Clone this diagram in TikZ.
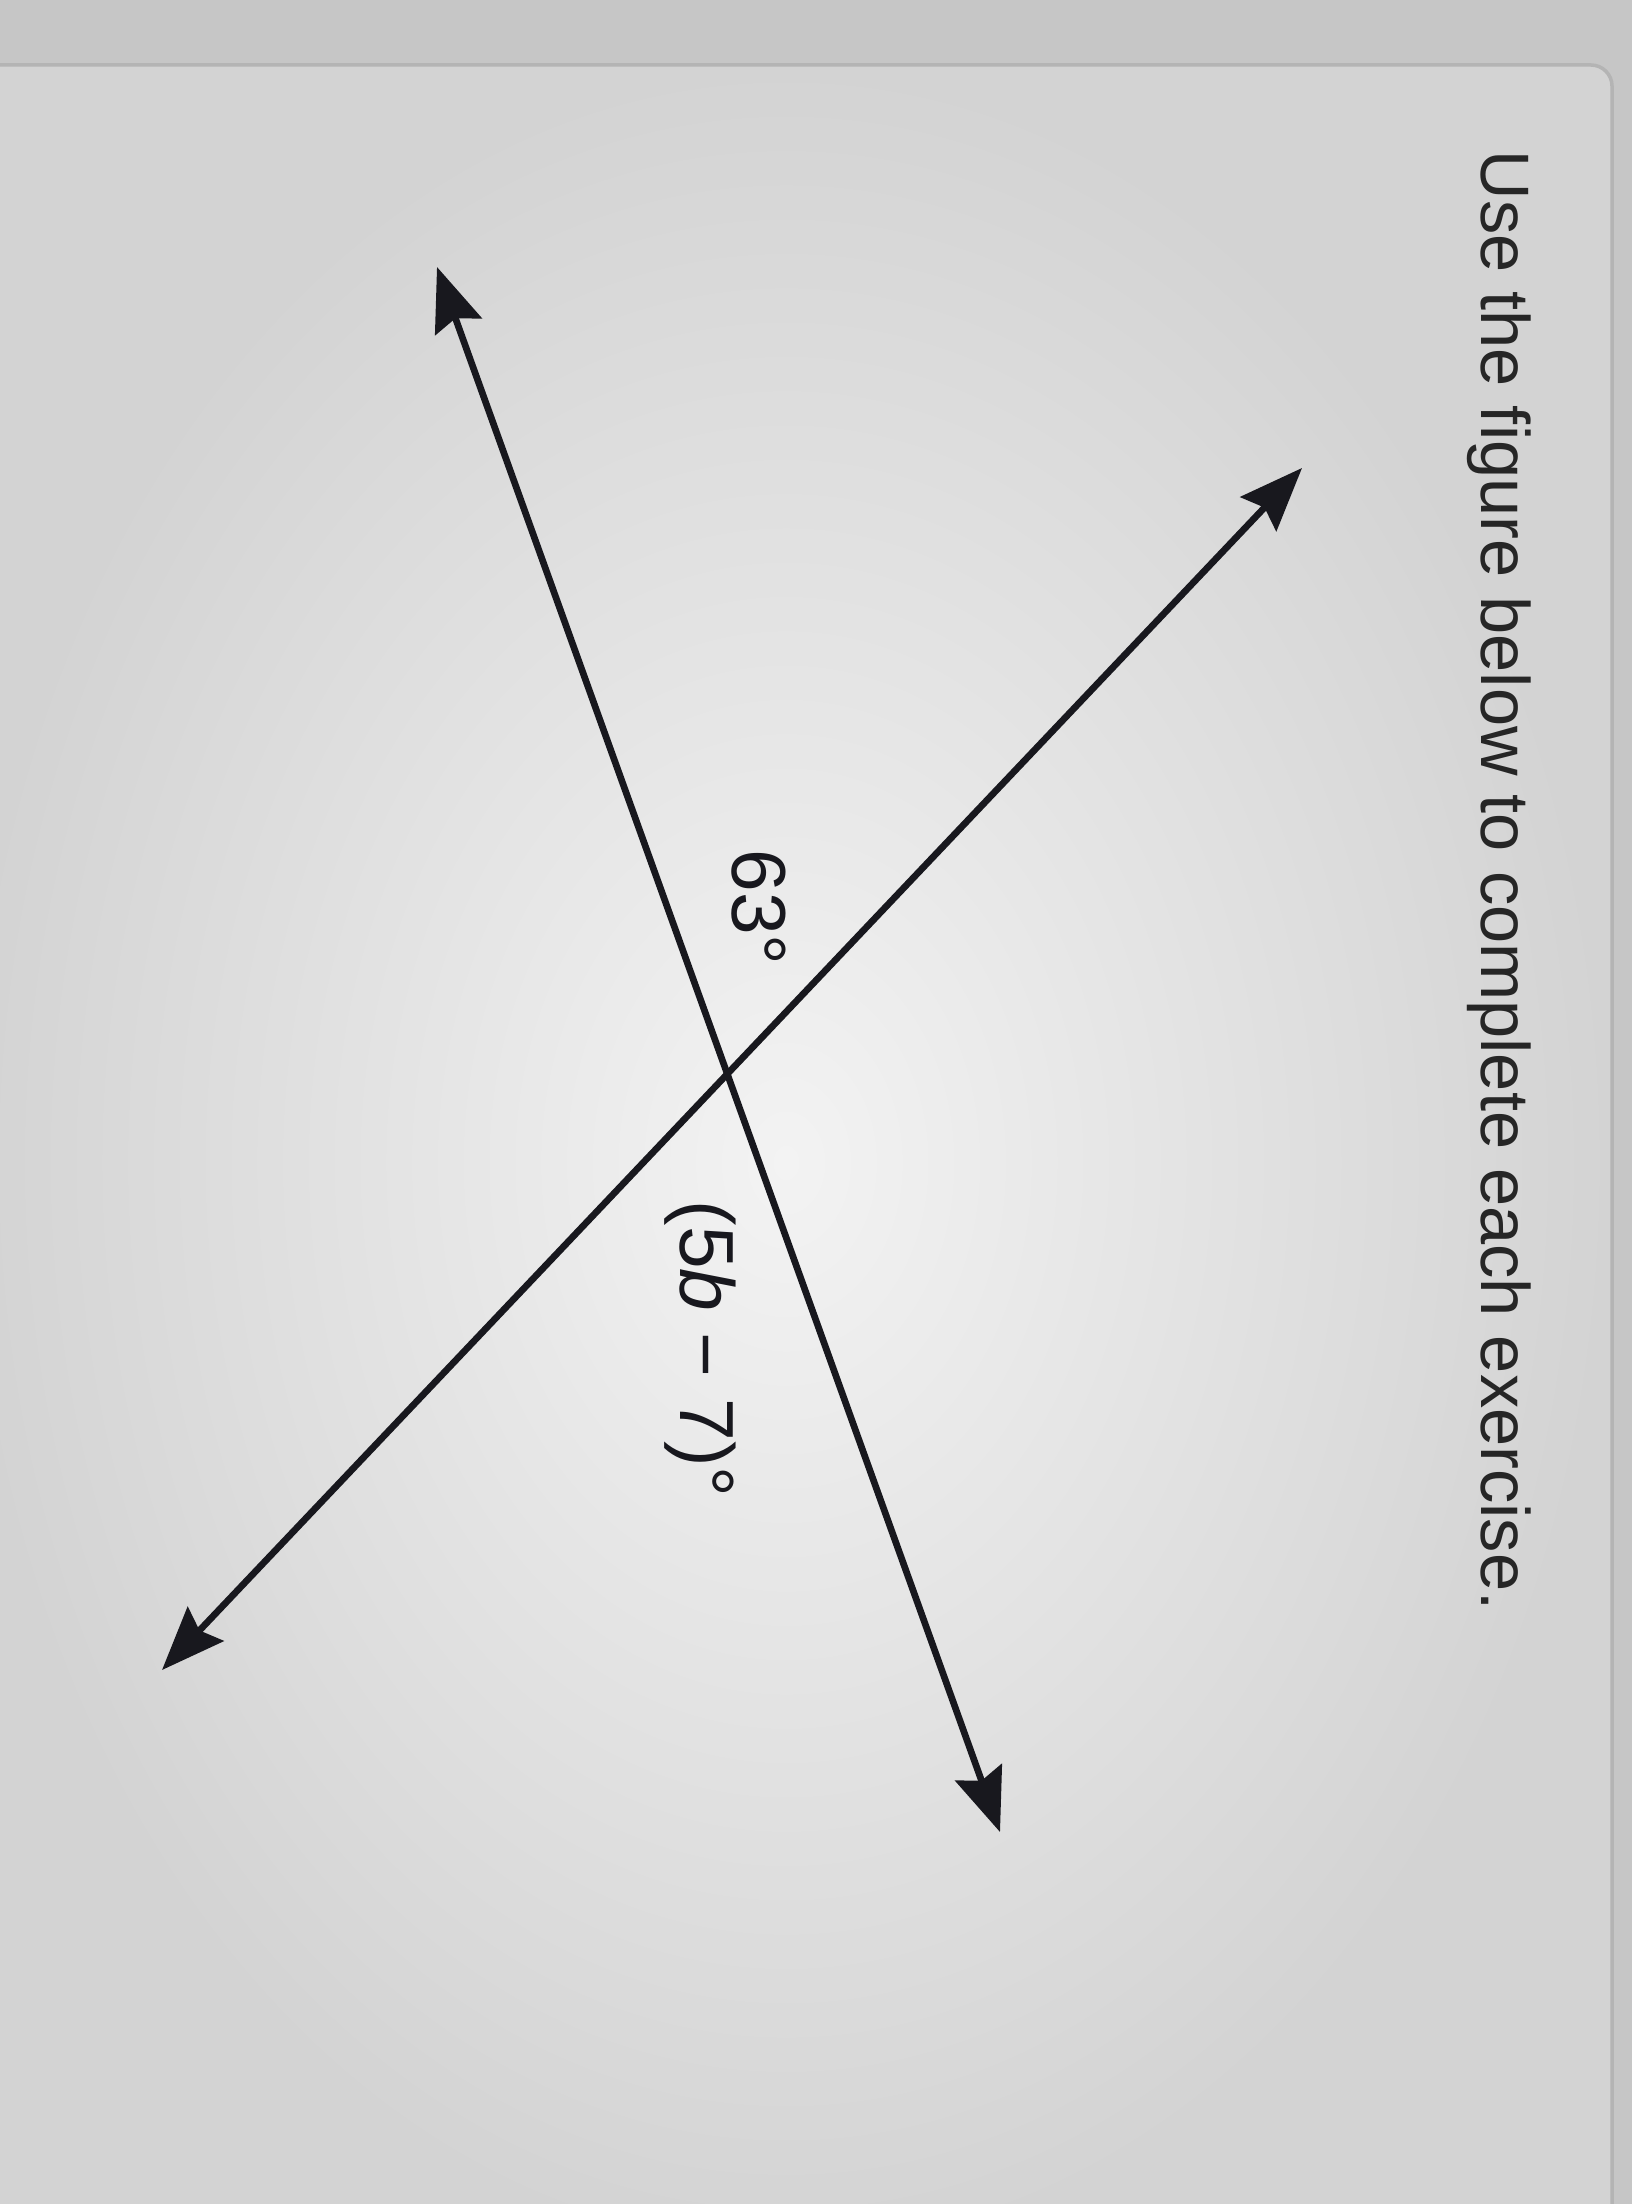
\documentclass[tikz,border=0pt]{standalone}
\usepackage{fontspec}
\setmainfont{Liberation Sans}
\usetikzlibrary{arrows.meta}
\definecolor{stripgray}{HTML}{C6C6C6}
\definecolor{cardinner}{HTML}{F3F3F3}
\definecolor{cardouter}{HTML}{D3D3D3}
\definecolor{cardedge}{HTML}{B4B4B4}
\definecolor{inkline}{HTML}{18181E}
\definecolor{inktext}{HTML}{262626}
\tikzset{
  figline/.style={draw=inkline, line width=1.9pt, line cap=round,
    {Stealth[length=18pt, width=14pt, inset=2.5pt]}-{Stealth[length=18pt, width=14pt, inset=2.5pt]}},
  headtext/.style={inner sep=0pt, rotate=-90, anchor=base west, text=inktext,
    font=\fontsize{19.5pt}{23pt}\selectfont},
  angletext/.style={inner sep=0pt, rotate=-90, anchor=base west, text=inkline,
    font=\fontsize{21.8pt}{26pt}\selectfont}
}
\begin{document}
\begin{tikzpicture}[x=0.01cm, y=-0.01cm]
\useasboundingbox (0,0) rectangle (1632,2204);
% background (photo of a screen)
\fill[stripgray] (0,0) rectangle (1632,2204);
\shade[inner color=cardinner, outer color=cardouter, rounded corners=6pt]
  (-40,65) rectangle (1612,2260);
\draw[cardedge, line width=1pt, rounded corners=6pt]
  (-40,65) -- (1612,65) -- (1612,2260);
% header
\node[headtext] (head) at (1481,150) {Use the figure below to complete each exercise.};
% the two lines
\coordinate (L1a) at (437,267);
\coordinate (L1b) at (1000,1832);
\coordinate (L2a) at (1302,468);
\coordinate (L2b) at (162,1670);
\draw[figline] (L1a) -- (L1b);
\draw[figline] (L2a) -- (L2b);
% angle labels
\node[angletext] (ang1) at (732,849) {63°};
\node[angletext] (ang2) at (680,1200) {(5\textit{b} − 7)°};
\end{tikzpicture}
\end{document}
